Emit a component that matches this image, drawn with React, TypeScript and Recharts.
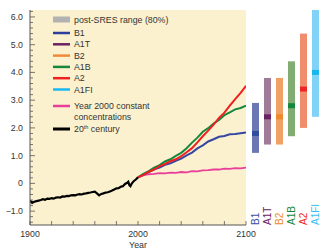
import React from 'react';
import { ComposedChart, BarChart, Line, Bar, Cell, XAxis, YAxis, CartesianGrid, Legend } from 'recharts';

const FONT = '"Liberation Sans", Arial, Helvetica, sans-serif';
const TEXT = '#333333';
const AXIS = '#555555';

// 20th century observed
const histYears = [1900, 1902, 1904, 1906, 1908, 1910, 1912, 1914, 1916, 1918, 1920, 1922, 1924, 1926, 1928, 1930, 1932, 1934, 1936, 1938, 1940, 1942, 1944, 1946, 1948, 1950, 1952, 1954, 1956, 1958, 1960, 1962, 1964, 1966, 1968, 1970, 1972, 1974, 1976, 1978, 1980, 1982, 1984, 1986, 1988, 1990, 1991, 1992, 1993, 1994, 1996, 1998, 2000];
const histTemp = [-0.62, -0.70, -0.66, -0.64, -0.62, -0.60, -0.57, -0.59, -0.55, -0.56, -0.53, -0.55, -0.51, -0.50, -0.51, -0.47, -0.48, -0.45, -0.46, -0.43, -0.42, -0.43, -0.40, -0.39, -0.40, -0.37, -0.36, -0.34, -0.33, -0.31, -0.30, -0.36, -0.43, -0.38, -0.36, -0.33, -0.32, -0.29, -0.26, -0.22, -0.18, -0.17, -0.12, -0.10, -0.02, 0.02, 0.06, -0.06, -0.10, -0.02, 0.08, 0.14, 0.22];

// Projections
const scenYears = [2000, 2005, 2010, 2015, 2020, 2025, 2030, 2035, 2040, 2045, 2050, 2055, 2060, 2065, 2070, 2075, 2080, 2085, 2090, 2095, 2100];
const a2Temp = [0.22, 0.31, 0.42, 0.50, 0.62, 0.70, 0.80, 0.87, 0.98, 1.12, 1.27, 1.48, 1.70, 1.90, 2.12, 2.36, 2.55, 2.80, 3.04, 3.26, 3.52];
const a1bTemp = [0.22, 0.34, 0.44, 0.57, 0.66, 0.79, 0.87, 0.99, 1.10, 1.27, 1.47, 1.65, 1.86, 1.99, 2.16, 2.29, 2.46, 2.56, 2.67, 2.72, 2.80];
const b1Temp = [0.22, 0.32, 0.41, 0.51, 0.57, 0.67, 0.72, 0.81, 0.89, 1.01, 1.11, 1.26, 1.37, 1.51, 1.59, 1.68, 1.71, 1.77, 1.78, 1.81, 1.83];
const constTemp = [0.22, 0.29, 0.33, 0.34, 0.37, 0.36, 0.39, 0.38, 0.41, 0.40, 0.44, 0.43, 0.47, 0.48, 0.50, 0.50, 0.53, 0.52, 0.55, 0.54, 0.57];

// Axes
const yMajorTicks = [-1, 0, 1, 2, 3, 4, 5, 6];
const yTickLabels = ['\u22121.0', '0', '1.0', '2.0', '3.0', '4.0', '5.0', '6.0'];
const yMinorTicks = Array.from({ length: 39 }, (_, i) => Math.round((-1.4 + i * 0.2) * 10) / 10);
const xTicks = [1900, 1920, 1940, 1960, 1980, 2000, 2020, 2040, 2060, 2080, 2100];
const xLabelYears = [1900, 2000, 2100];
const Y_DOMAIN: [number, number] = [-1.5, 6.25];

// Scenario ranges at 2100
const scenarios = ['B1', 'A1T', 'B2', 'A1B', 'A2', 'A1FI'];
const scenLow = [1.1, 1.4, 1.4, 1.7, 2.0, 2.4];
const scenHigh = [2.9, 3.8, 3.8, 4.4, 5.4, 6.4];
const scenBest = [1.8, 2.4, 2.4, 2.8, 3.4, 4.0];
const rangeColors = ['#6b77b3', '#a07b98', '#f0a163', '#81ad73', '#f08d6d', '#80d3f6'];
const bestColors = ['#2f4d9d', '#6a2262', '#ec8a2c', '#17873d', '#ee2424', '#17b6ee'];
const labelColors = ['#3a4fa0', '#6a2262', '#f08a30', '#17873d', '#ee2a2a', '#3ac0f0'];

// Legend
const legendLineNames = ['B1', 'A1T', 'B2', 'A1B', 'A2', 'A1FI'];
const legendLineColors = ['#2e3c9c', '#6a2262', '#f08a3a', '#17873d', '#ee2020', '#1ab8f0'];
const COL_A2 = '#ee2020';
const COL_A1B = '#17873d';
const COL_B1 = '#3646a3';
const COL_CONST = '#e8409a';

const toSeries = (xs: number[], ys: number[]) => xs.map((x, i) => ({ year: x, v: ys[i] }));
const histData = toSeries(histYears, histTemp);
const a2Data = toSeries(scenYears, a2Temp);
const a1bData = toSeries(scenYears, a1bTemp);
const b1Data = toSeries(scenYears, b1Temp);
const constData = toSeries(scenYears, constTemp);

const barData = scenarios.map((s, i) => ({
  name: s,
  range: [scenLow[i], scenHigh[i]],
  best: [scenBest[i] - 0.09, scenBest[i] + 0.09],
}));

const majorIndex = (v: number) => yMajorTicks.findIndex((m) => Math.abs(m - v) < 1e-6);

const LeftTick = (props: any) => {
  const { x, y, payload } = props;
  const idx = majorIndex(payload.value);
  const major = idx >= 0;
  return (
    <g>
      <line x1={x} x2={x + (major ? 5 : 3)} y1={y} y2={y} stroke={AXIS} strokeWidth={0.8} />
      {major && (
        <text x={x - 7} y={y} dy="0.35em" textAnchor="end" fontSize={8.8} fill={TEXT} fontFamily={FONT}>
          {yTickLabels[idx]}
        </text>
      )}
    </g>
  );
};

const RightTick = (props: any) => {
  const { x, y, payload } = props;
  const major = majorIndex(payload.value) >= 0;
  return <line x1={x} x2={x - (major ? 5 : 3)} y1={y} y2={y} stroke={AXIS} strokeWidth={0.8} />;
};

const BottomTick = (props: any) => {
  const { x, y, payload } = props;
  const labelled = xLabelYears.includes(payload.value);
  return (
    <g>
      <line x1={x} x2={x} y1={y} y2={y - 4} stroke={AXIS} strokeWidth={0.8} />
      {labelled && (
        <text x={x} y={y + 12} textAnchor="middle" fontSize={8.8} fill={TEXT} fontFamily={FONT}>
          {payload.value}
        </text>
      )}
    </g>
  );
};

const ScenTick = (props: any) => {
  const { x, y, payload, index } = props;
  return (
    <text
      transform={`translate(${x + 3.6},${y}) rotate(-90)`}
      fontSize={10}
      fill={labelColors[index]}
      fontFamily={FONT}
    >
      {payload.value}
    </text>
  );
};

const LegendContent = () => {
  const sw = { x1: 3, x2: 20 };
  const tx = 24;
  const fs = 8.8;
  const lineYs = [23, 34.3, 45.6, 56.9, 68.2, 79.5];
  return (
    <svg width={190} height={130} style={{ display: 'block', overflow: 'visible' }}>
      <rect x={3} y={6.5} width={17} height={6} fill="#b2b2b2" />
      <text x={tx} y={9.5} dy="0.35em" fontSize={fs} fill={TEXT} fontFamily={FONT}>post-SRES range (80%)</text>
      {legendLineNames.map((n, i) => (
        <g key={n}>
          <line x1={sw.x1} x2={sw.x2} y1={lineYs[i]} y2={lineYs[i]} stroke={legendLineColors[i]} strokeWidth={2.5} />
          <text x={tx} y={lineYs[i]} dy="0.35em" fontSize={fs} fill={TEXT} fontFamily={FONT}>{n}</text>
        </g>
      ))}
      <line x1={sw.x1} x2={sw.x2} y1={96} y2={96} stroke={COL_CONST} strokeWidth={2.5} />
      <text x={tx} y={96} dy="0.35em" fontSize={fs} fill={TEXT} fontFamily={FONT}>Year 2000 constant</text>
      <text x={tx} y={107} dy="0.35em" fontSize={fs} fill={TEXT} fontFamily={FONT}>concentrations</text>
      <line x1={sw.x1} x2={sw.x2} y1={119} y2={119} stroke="#000" strokeWidth={3} />
      <text x={tx} y={119} dy="0.35em" fontSize={fs} fill={TEXT} fontFamily={FONT}>
        20<tspan fontSize={5.5} dy="-3">th</tspan><tspan dy="3"> century</tspan>
      </text>
    </svg>
  );
};

export default function App() {
  return (
    <div style={{ position: 'absolute', left: 0, top: 0, width: 321, height: 249, background: '#fff', overflow: 'hidden' }}>
      <div style={{ position: 'absolute', left: 0, top: 0 }}>
        <ComposedChart width={262} height={249} margin={{ top: 10, right: 16, bottom: 0, left: 0 }}>
          <CartesianGrid horizontal={false} vertical={false} fill="#fcf1ce" stroke="none" />
          <XAxis
            type="number"
            dataKey="year"
            domain={[1900, 2100]}
            ticks={xTicks}
            interval={0}
            tick={BottomTick}
            tickLine={false}
            tickSize={0}
            tickMargin={0}
            height={24}
            stroke={AXIS}
            allowDataOverflow
            label={{ value: 'Year', position: 'insideBottom', offset: 1, fontSize: 8.8, fill: TEXT, fontFamily: FONT }}
          />
          <YAxis
            yAxisId="left"
            type="number"
            domain={Y_DOMAIN}
            ticks={yMinorTicks}
            interval={0}
            tick={LeftTick}
            tickLine={false}
            tickSize={0}
            tickMargin={0}
            width={30}
            stroke={AXIS}
            allowDataOverflow
          />
          <YAxis
            yAxisId="right"
            orientation="right"
            type="number"
            domain={Y_DOMAIN}
            ticks={yMinorTicks}
            interval={0}
            tick={RightTick}
            tickLine={false}
            tickSize={0}
            tickMargin={0}
            width={0}
            stroke={AXIS}
            allowDataOverflow
          />
          <Legend
            layout="vertical"
            align="center"
            verticalAlign="middle"
            content={LegendContent}
            wrapperStyle={{ left: 50, top: 10, width: 190, height: 130 }}
          />
          <Line yAxisId="left" data={constData} dataKey="v" stroke={COL_CONST} strokeWidth={1.8} dot={false} isAnimationActive={false} />
          <Line yAxisId="left" data={b1Data} dataKey="v" stroke={COL_B1} strokeWidth={2} dot={false} isAnimationActive={false} />
          <Line yAxisId="left" data={a1bData} dataKey="v" stroke={COL_A1B} strokeWidth={2} dot={false} isAnimationActive={false} />
          <Line yAxisId="left" data={a2Data} dataKey="v" stroke={COL_A2} strokeWidth={2} dot={false} isAnimationActive={false} />
          <Line yAxisId="left" data={histData} dataKey="v" stroke="#000" strokeWidth={2.2} dot={false} isAnimationActive={false} />
        </ComposedChart>
      </div>
      <div style={{ position: 'absolute', left: 249, top: 0 }}>
        <BarChart width={72} height={249} data={barData} margin={{ top: 10, right: 0, bottom: 0, left: 0 }}>
          <XAxis xAxisId="a" dataKey="name" height={24} tick={ScenTick} tickLine={false} axisLine={false} tickSize={0} tickMargin={0} interval={0} />
          <XAxis xAxisId="b" dataKey="name" hide />
          <YAxis type="number" domain={Y_DOMAIN} allowDataOverflow hide />
          <Bar xAxisId="a" dataKey="range" barSize={7} isAnimationActive={false}>
            {barData.map((d, i) => <Cell key={d.name} fill={rangeColors[i]} />)}
          </Bar>
          <Bar xAxisId="b" dataKey="best" barSize={7} isAnimationActive={false}>
            {barData.map((d, i) => <Cell key={d.name} fill={bestColors[i]} />)}
          </Bar>
        </BarChart>
      </div>
    </div>
  );
}
